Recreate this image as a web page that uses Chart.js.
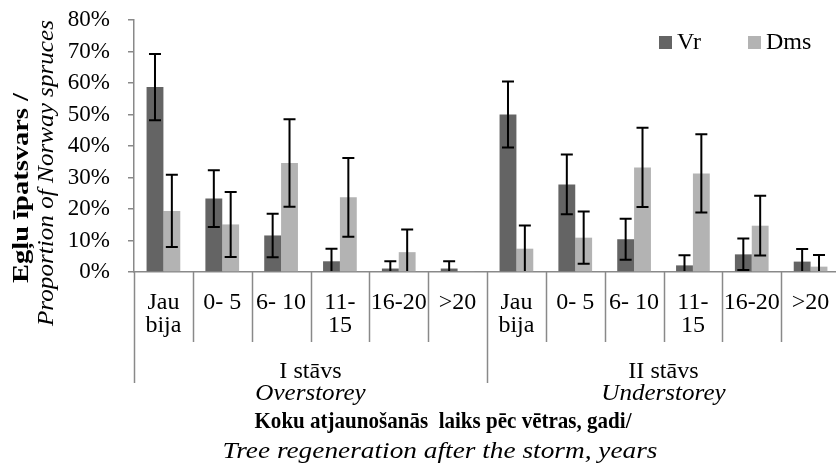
<!DOCTYPE html>
<html>
<head>
<meta charset="utf-8">
<script src="https://cdn.jsdelivr.net/npm/chart.js@4/dist/chart.umd.min.js"></script>
<style>
  html, body { margin: 0; padding: 0; background: #fff; overflow: hidden; }
  #wrap { width: 850px; height: 464px; position: relative; }
</style>
</head>
<body>
<div id="wrap"><canvas id="c"></canvas></div>
<script>
// Time since regeneration, per storey (multi-line labels as arrays)
const categories = [
  ['Jau', 'bija'], ['0- 5'], ['6- 10'], ['11-', '15'], ['16-20'], ['>20'],
  ['Jau', 'bija'], ['0- 5'], ['6- 10'], ['11-', '15'], ['16-20'], ['>20']
];
// Storey groups, each spanning six categories
const groupLabels = [['I stāvs', 'Overstorey'], ['II stāvs', 'Understorey']];
const groupSize = 6;

// Share of Norway spruce, %
const vrValues  = [58.7, 23.3, 11.6, 3.4, 1.1, 1.1, 50.0, 27.8, 10.4, 2.1, 5.6, 3.3];
const vrErrors  = [10.5, 9.0, 6.9, 4.0, 2.3, 2.3, 10.5, 9.5, 6.5, 3.2, 5.0, 4.0];
const dmsValues = [19.4, 15.1, 34.6, 23.7, 6.3, 0.2, 7.4, 10.9, 33.2, 31.3, 14.7, 1.7];
const dmsErrors = [11.5, 10.3, 13.9, 12.5, 7.2, 0, 7.4, 8.3, 12.6, 12.4, 9.5, 3.7];

const seriesNames = ['Vr', 'Dms'];
const yTicks = [0, 10, 20, 30, 40, 50, 60, 70, 80];

const yTitle = ['Egļu īpatsvars /', 'Proportion of Norway spruces'];
const xTitle = ['Koku atjaunošanās  laiks pēc vētras, gadi/', 'Tree regeneration after the storm, years'];

const SERIF = '"Liberation Serif", "Times New Roman", serif';
const AXIS_GREY = '#898989';
const COLORS = ['#646464', '#b3b3b3'];

// Draw text centred at (0,0) of the current transform, stretched along its run to a given length
function fillRun(ctx, text, width) {
  const w = ctx.measureText(text).width;
  ctx.save();
  ctx.scale(width / w, 1);
  ctx.textAlign = 'center';
  ctx.fillText(text, 0, 0);
  ctx.restore();
}

// Symmetric error bars on top of each bar
const errorBars = {
  id: 'errorBars',
  afterDatasetsDraw(chart) {
    const { ctx, chartArea, scales: { y } } = chart;
    const errs = [vrErrors, dmsErrors];
    ctx.save();
    ctx.beginPath();
    ctx.rect(chartArea.left, chartArea.top - 10, chartArea.right - chartArea.left, chartArea.bottom - chartArea.top + 9);
    ctx.clip();
    ctx.strokeStyle = '#000';
    ctx.lineWidth = 2;
    chart.data.datasets.forEach((ds, di) => {
      const meta = chart.getDatasetMeta(di);
      meta.data.forEach((bar, i) => {
        const e = errs[di][i];
        if (!e) return;
        const v = ds.data[i];
        const yt = y.getPixelForValue(v + e);
        const yb = y.getPixelForValue(v - e);
        const half = 6;
        ctx.beginPath();
        ctx.moveTo(bar.x, yt); ctx.lineTo(bar.x, yb);
        ctx.moveTo(bar.x - half, yt); ctx.lineTo(bar.x + half, yt);
        ctx.moveTo(bar.x - half, yb); ctx.lineTo(bar.x + half, yb);
        ctx.stroke();
      });
    });
    ctx.restore();
  }
};

// Category/group labels, dividers, axis titles and legend
const decorations = {
  id: 'decorations',
  afterDraw(chart) {
    const { ctx, chartArea, scales: { x } } = chart;
    const n = categories.length;
    const step = (x.getPixelForValue(1) - x.getPixelForValue(0));
    const edge = i => x.getPixelForValue(i) - step / 2;
    const base = chartArea.bottom;

    ctx.save();
    // dividers
    ctx.strokeStyle = AXIS_GREY;
    ctx.lineWidth = 1.5;
    for (let i = 0; i <= n; i++) {
      const px = Math.round(edge(i)) + 0.5;
      const isGroup = i % groupSize === 0;
      ctx.beginPath();
      ctx.moveTo(px, base);
      ctx.lineTo(px, isGroup ? base + 111 : base + 70);
      ctx.stroke();
    }

    // category labels
    ctx.fillStyle = '#000';
    ctx.textAlign = 'center';
    ctx.textBaseline = 'alphabetic';
    ctx.font = '24px ' + SERIF;
    categories.forEach((lines, i) => {
      const cx = x.getPixelForValue(i);
      lines.forEach((t, k) => ctx.fillText(t, cx, base + 37 + k * 23));
    });

    // group labels
    groupLabels.forEach((g, gi) => {
      const cx = (edge(gi * groupSize) + edge((gi + 1) * groupSize)) / 2;
      ctx.font = '23px ' + SERIF;
      ctx.save(); ctx.translate(cx, base + 106); fillRun(ctx, g[0], ctx.measureText(g[0]).width * 1.05); ctx.restore();
      ctx.font = 'italic 23px ' + SERIF;
      ctx.save(); ctx.translate(cx, base + 128); fillRun(ctx, g[1], ctx.measureText(g[1]).width * 1.09); ctx.restore();
    });

    // x title
    ctx.font = 'bold 23px ' + SERIF;
    ctx.save(); ctx.translate(443, 428); fillRun(ctx, xTitle[0], 377); ctx.restore();
    ctx.font = 'italic 23px ' + SERIF;
    ctx.save(); ctx.translate(440, 458); fillRun(ctx, xTitle[1], 435); ctx.restore();

    // y title (rotated)
    ctx.textBaseline = 'middle';
    ctx.save();
    ctx.translate(22, 188);
    ctx.rotate(-Math.PI / 2);
    ctx.font = 'bold 23px ' + SERIF;
    fillRun(ctx, yTitle[0], 190);
    ctx.restore();
    ctx.save();
    ctx.translate(47, 173);
    ctx.rotate(-Math.PI / 2);
    ctx.font = 'italic 23px ' + SERIF;
    fillRun(ctx, yTitle[1], 306);
    ctx.restore();

    // legend
    const legendX = [659, 748];
    ctx.textAlign = 'left';
    ctx.font = '24px ' + SERIF;
    seriesNames.forEach((name, i) => {
      ctx.fillStyle = COLORS[i];
      ctx.fillRect(legendX[i], 36, 13, 13);
      ctx.fillStyle = '#000';
      ctx.fillText(name, legendX[i] + 18, 43);
    });
    ctx.restore();
  }
};

new Chart(document.getElementById('c'), {
  type: 'bar',
  data: {
    labels: categories.map(c => c.join(' ')),
    datasets: [
      { label: seriesNames[0], data: vrValues, backgroundColor: COLORS[0] },
      { label: seriesNames[1], data: dmsValues, backgroundColor: COLORS[1] }
    ]
  },
  options: {
    responsive: true,
    maintainAspectRatio: false,
    animation: false,
    devicePixelRatio: 1,
    layout: { padding: { top: 20, right: 10, left: 0, bottom: 0 } },
    datasets: { bar: { categoryPercentage: 0.573, barPercentage: 1.0, borderWidth: 0 } },
    plugins: { legend: { display: false }, tooltip: { enabled: false } },
    scales: {
      x: {
        ticks: { display: false },
        grid: { display: false },
        border: { display: true, color: AXIS_GREY, width: 1.5 },
        afterFit(scale) { scale.height = 192; }
      },
      y: {
        min: 0,
        max: 80,
        afterBuildTicks(scale) { scale.ticks = yTicks.map(v => ({ value: v })); },
        ticks: {
          autoSkip: false,
          padding: 18,
          color: '#000',
          font: { family: SERIF, size: 23 },
          callback: v => v + '%'
        },
        grid: { drawOnChartArea: false, drawTicks: true, tickLength: 6, color: AXIS_GREY, lineWidth: 1.5 },
        border: { display: true, color: AXIS_GREY, width: 1.5 },
        afterFit(scale) {
          scale.width = 134;
          scale.paddingTop = 0;
          scale.paddingBottom = 0;
        }
      }
    }
  },
  plugins: [errorBars, decorations]
});
</script>
</body>
</html>
